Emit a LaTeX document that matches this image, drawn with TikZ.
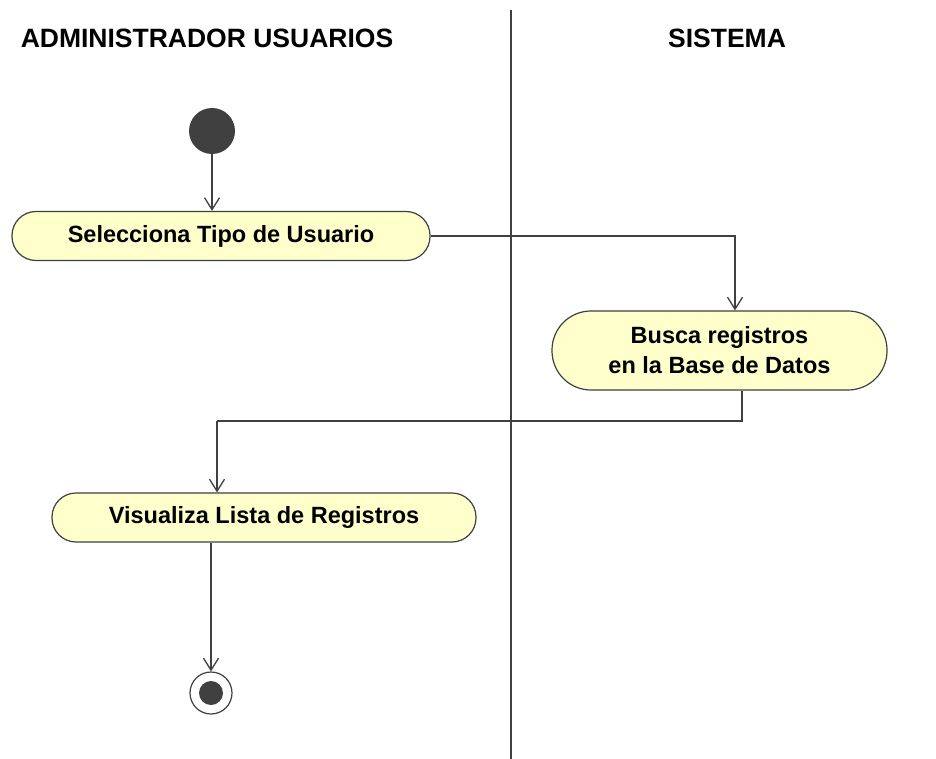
\documentclass[tikz,border=0pt]{standalone}
\usepackage{fontspec}
\setmainfont{Liberation Sans}
\usetikzlibrary{arrows.meta}
\definecolor{actfill}{RGB}{255,255,204}
\definecolor{linec}{RGB}{64,64,64}
\begin{document}
\begin{tikzpicture}[x=1pt,y=-1pt,
  lanetitle/.style={font=\fontsize{26.5}{30}\selectfont\bfseries, text=black, inner sep=0pt},
  action/.style={draw=linec, line width=1.2pt, fill=actfill, inner sep=0pt,
    font=\fontsize{23.5}{30}\selectfont\bfseries, align=center},
  flow/.style={draw=linec, line width=1.3pt, -{Straight Barb[length=12pt,width=15pt,line width=1.3pt]}},
  plain/.style={draw=linec, line width=1.3pt}]
\useasboundingbox (0,0) rectangle (936,759);
\fill[white] (0,0) rectangle (936,759);

% lane titles and separator
\node[lanetitle] (t1) at (207,38) {ADMINISTRADOR USUARIOS};
\node[lanetitle] (t2) at (727,38) {SISTEMA};
\coordinate (s1) at (511,10);
\coordinate (s2) at (511,759);
\draw[linec, line width=1.3pt] (s1) -- (s2);

% start
\node[circle, fill=linec, minimum size=46pt, inner sep=0pt] (start) at (212,131) {};

% actions
\node[action, minimum width=418pt, minimum height=49pt, rounded corners=24pt] (a1) at (221,236) {Selecciona Tipo de Usuario};
\node[action, minimum width=335pt, minimum height=79pt, rounded corners=39pt] (a2) at (719.5,350.5) {Busca registros\\en la Base de Datos};
\node[action, minimum width=424pt, minimum height=49pt, rounded corners=24pt] (a3) at (264,517.5) {Visualiza Lista de Registros};

% end
\node[circle, draw=linec, line width=1.2pt, fill=white, minimum size=42pt, inner sep=0pt] (end) at (211,693) {};
\node[circle, fill=linec, minimum size=24pt, inner sep=0pt] (endin) at (end.center) {};

% bend coordinates
\coordinate (b1) at (735,236);
\coordinate (b2) at (742,421);
\coordinate (b3) at (217,421);

% connectors
\draw[flow] (start.south) -- (start.south |- a1.north);
\draw[flow] (a1.east) -- (b1) -- (b1 |- a2.north);
\draw[plain] (b2 |- a2.south) -- (b2) -- (b3);
\draw[flow] (b3) -- (b3 |- a3.north);
\draw[flow] (end.north |- a3.south) -- (end.north);
\end{tikzpicture}
\end{document}
